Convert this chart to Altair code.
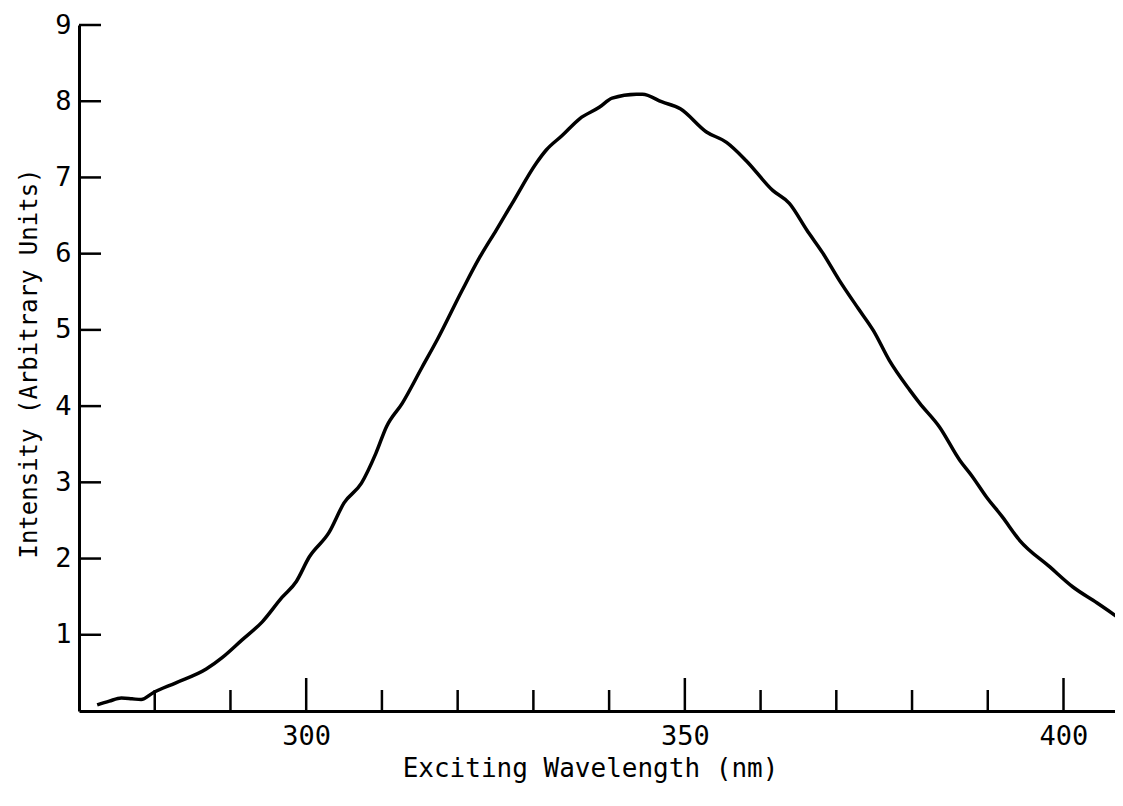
import altair as alt
import pandas as pd

# Curve (wavelength nm, intensity arbitrary units)
wavelength = [272.4, 274.0, 275.6, 277.0, 278.2, 279.8, 282.8, 286.8, 288.9, 291.5,
              294.2, 296.8, 298.7, 300.4, 303.0, 305.0, 307.3, 309.2, 310.6, 312.7,
              315.3, 317.3, 320.6, 322.9, 325.1, 327.2, 330.4, 331.7, 333.8, 336.1,
              338.7, 340.4, 343.6, 344.4, 347.0, 349.4, 352.8, 355.5, 358.1, 361.6,
              363.8, 366.1, 368.2, 370.4, 372.9, 374.9, 377.0, 379.7, 381.0, 383.6,
              386.3, 388.0, 389.8, 391.9, 394.2, 398.2, 401.2, 404.4, 407.9]
intensity = [0.08, 0.13, 0.17, 0.16, 0.15, 0.24, 0.37, 0.55, 0.70, 0.93,
             1.17, 1.49, 1.70, 2.02, 2.34, 2.73, 2.99, 3.38, 3.73, 4.04,
             4.51, 4.87, 5.52, 5.95, 6.31, 6.66, 7.19, 7.36, 7.55, 7.77,
             7.92, 8.04, 8.09, 8.09, 7.99, 7.90, 7.60, 7.46, 7.22, 6.83,
             6.66, 6.31, 6.01, 5.65, 5.28, 4.99, 4.60, 4.21, 4.04, 3.73,
             3.29, 3.07, 2.81, 2.55, 2.24, 1.89, 1.63, 1.42, 1.18]

x_minor_ticks = [280, 290, 310, 320, 330, 340, 360, 370, 380, 390]
x_major_ticks = [300, 350, 400]
y_ticks = [1, 2, 3, 4, 5, 6, 7, 8, 9]
x_domain = [270, 406.8]
y_domain = [0, 9]

FONT = "DejaVu Sans Mono"
W, H = 1036, 686

xs = alt.Scale(domain=x_domain, nice=False, zero=False)
ys = alt.Scale(domain=y_domain, nice=False, zero=False)

x_axis = alt.Axis(values=x_major_ticks, title="Exciting Wavelength (nm)",
                  ticks=False, tickSize=0, labelPadding=12, grid=False,
                  domainColor="black", domainWidth=3,
                  labelFont=FONT, labelFontSize=27, labelColor="black",
                  titleFont=FONT, titleFontSize=26, titleFontWeight="normal",
                  titleColor="black", titleX=511, titleY=57,
                  titleAlign="center", titleBaseline="middle")
y_axis = alt.Axis(values=y_ticks, title="Intensity (Arbitrary Units)",
                  ticks=False, tickSize=0, labelPadding=8, grid=False,
                  domainColor="black", domainWidth=3,
                  labelFont=FONT, labelFontSize=27, labelColor="black",
                  titleFont=FONT, titleFontSize=24, titleFontWeight="normal",
                  titleColor="black", titleX=-50, titleY=338,
                  titleAlign="center", titleBaseline="middle")

curve_df = pd.DataFrame({"wl": wavelength, "val": intensity})

curve = alt.Chart(curve_df).mark_line(color="black", strokeWidth=3.5, clip=True,
                                      interpolate="monotone").encode(
    x=alt.X("wl:Q", scale=xs, axis=x_axis),
    y=alt.Y("val:Q", scale=ys, axis=y_axis),
)

minor = alt.Chart(pd.DataFrame({"wl": x_minor_ticks})).mark_rule(color="black", strokeWidth=2.5).encode(
    x=alt.X("wl:Q", scale=xs, axis=x_axis),
    y=alt.value(H), y2=alt.value(H - 21),
)
major = alt.Chart(pd.DataFrame({"wl": x_major_ticks})).mark_rule(color="black", strokeWidth=2.5).encode(
    x=alt.X("wl:Q", scale=xs, axis=x_axis),
    y=alt.value(H), y2=alt.value(H - 33),
)
yt = alt.Chart(pd.DataFrame({"val": y_ticks})).mark_rule(color="black", strokeWidth=2.5).encode(
    y=alt.Y("val:Q", scale=ys, axis=y_axis),
    x=alt.value(0), x2=alt.value(22),
)

chart = alt.layer(curve, minor, major, yt).properties(
    width=W, height=H,
    background="white",
    autosize=alt.AutoSizeParams(type="none"),
    padding={"left": 71, "top": 17, "right": 0, "bottom": 75},
).configure_view(stroke=None)

chart.save("out.html", embed_options={"renderer": "svg", "actions": False})
